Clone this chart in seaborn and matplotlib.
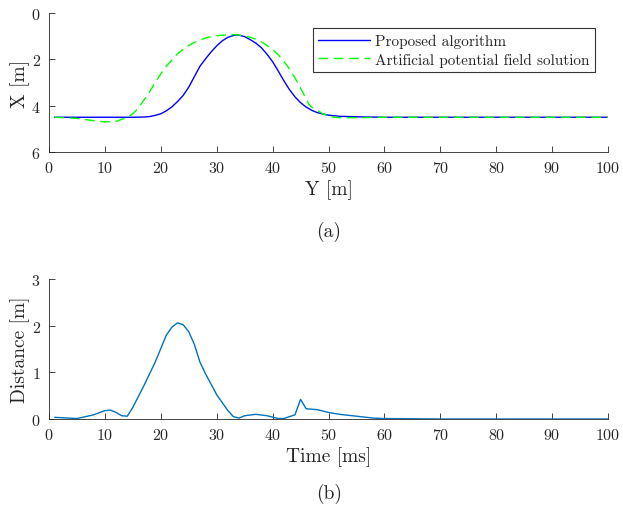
import numpy as np
import pandas as pd
import matplotlib
matplotlib.use("Agg")
import matplotlib.pyplot as plt
import seaborn as sns

# ---- data ----
prop_y = [1, 5, 10, 15, 17, 18, 19, 20, 21, 22, 23, 24, 25, 26, 27, 28, 29, 30, 31, 32, 33, 33.5, 34, 35, 36, 37, 38, 39, 40, 41, 42, 43, 44, 45, 46, 47, 48, 49, 50, 52, 55, 60, 70, 80, 90, 100]
prop_x = [4.5, 4.5, 4.5, 4.5, 4.49, 4.47, 4.42, 4.35, 4.22, 4.05, 3.82, 3.56, 3.2, 2.75, 2.3, 1.98, 1.68, 1.42, 1.2, 1.05, 0.97, 0.95, 0.96, 1.02, 1.15, 1.3, 1.5, 1.78, 2.1, 2.5, 2.92, 3.3, 3.62, 3.87, 4.06, 4.2, 4.3, 4.36, 4.41, 4.46, 4.48, 4.5, 4.5, 4.5, 4.5, 4.5]

apf_y = [1, 5, 8, 10, 12, 14, 15, 16, 17, 18, 19, 20, 21, 22, 23, 24, 25, 26, 27, 28, 29, 30, 31, 32, 33, 34, 35, 36, 37, 38, 39, 40, 41, 42, 43, 44, 45, 46, 46.5, 47, 47.5, 48, 49, 50, 51, 52, 55, 60, 70, 80, 90, 100]
apf_x = [4.5, 4.55, 4.65, 4.7, 4.68, 4.5, 4.35, 4.1, 3.75, 3.4, 3.0, 2.63, 2.3, 2.02, 1.76, 1.56, 1.4, 1.27, 1.17, 1.08, 1.02, 0.98, 0.96, 0.94, 0.93, 0.95, 0.99, 1.05, 1.13, 1.25, 1.4, 1.57, 1.8, 2.08, 2.41, 2.8, 3.25, 3.7, 3.95, 4.07, 4.1, 4.2, 4.35, 4.45, 4.5, 4.52, 4.52, 4.5, 4.5, 4.5, 4.5, 4.5]

t_ms = [1, 5, 8, 10, 11, 12, 13, 14, 15, 17, 19, 21, 22, 23, 24, 25, 26, 27, 28, 30, 32, 33, 34, 35, 37, 39, 41, 42, 44, 45, 46, 48, 50, 52, 55, 58, 60, 70, 80, 90, 100]
dist_m = [0.036, 0.01, 0.09, 0.18, 0.19, 0.14, 0.07, 0.06, 0.25, 0.72, 1.22, 1.8, 1.97, 2.06, 2.02, 1.87, 1.6, 1.22, 0.97, 0.52, 0.18, 0.05, 0.02, 0.07, 0.1, 0.07, 0.01, 0.01, 0.09, 0.42, 0.22, 0.2, 0.14, 0.1, 0.06, 0.02, 0.01, 0.0, 0.0, 0.0, 0.0]

series_labels = ["Proposed algorithm", "Artificial potential field solution"]

df_a = pd.concat([
    pd.DataFrame({"Y": prop_y, "X": prop_x, "series": series_labels[0]}),
    pd.DataFrame({"Y": apf_y, "X": apf_x, "series": series_labels[1]}),
])
df_b = pd.DataFrame({"t": t_ms, "d": dist_m})

sns.set_theme(style="ticks")
plt.rcParams["font.family"] = ["cmr10", "DejaVu Serif"]
plt.rcParams["mathtext.fontset"] = "cm"
plt.rcParams["axes.formatter.use_mathtext"] = True
plt.rcParams["xtick.direction"] = "in"
plt.rcParams["ytick.direction"] = "in"

fig = plt.figure(figsize=(6.23, 5.10), dpi=100)
W, H = 623, 510
ax1 = fig.add_axes([49 / W, 1 - 153 / H, (608 - 49) / W, (153 - 14) / H])
ax2 = fig.add_axes([49 / W, 1 - 420 / H, (608 - 49) / W, (420 - 280) / H])

sns.lineplot(data=df_a, x="Y", y="X", hue="series", style="series",
             palette=["#0000ff", "#00ff00"], dashes=[(None, None), (7, 4)],
             sort=False, estimator=None, lw=1.0, ax=ax1)
ax1.set_xlim(0, 100)
ax1.set_ylim(6, 0)
ax1.set_xticks(range(0, 101, 10))
ax1.set_yticks([0, 2, 4, 6])
ax1.set_xlabel("Y [m]", fontsize=14, labelpad=3)
ax1.set_ylabel("X [m]", fontsize=14, labelpad=1)
leg = ax1.legend(loc="upper right", bbox_to_anchor=(0.99, 0.945), fontsize=11,
                 frameon=True, fancybox=False, edgecolor="black",
                 handlelength=3.4, borderpad=0.35, labelspacing=0.3,
                 handletextpad=0.3)
leg.get_frame().set_linewidth(0.8)
for h in leg.get_lines():
    h.set_linewidth(1.0)

sns.lineplot(data=df_b, x="t", y="d", color="#0072bd", lw=1.0,
             sort=False, estimator=None, ax=ax2)
ax2.set_xlim(0, 100)
ax2.set_ylim(0, 3)
ax2.set_xticks(range(0, 101, 10))
ax2.set_yticks([0, 1, 2, 3])
ax2.set_xlabel("Time [ms]", fontsize=14, labelpad=3)
ax2.set_ylabel("Distance [m]", fontsize=14, labelpad=1)

for ax in (ax1, ax2):
    sns.despine(ax=ax)
    ax.tick_params(labelsize=11.5, length=4, width=0.6, color="#262626", pad=6)
    for s in ("left", "bottom"):
        ax.spines[s].set_linewidth(0.6)
        ax.spines[s].set_color("#262626")

fig.text(329 / W, 1 - 232 / H, "(a)", ha="center", va="center", fontsize=14)
fig.text(329 / W, 1 - 494 / H, "(b)", ha="center", va="center", fontsize=14)

fig.savefig("out.png", dpi=100)
